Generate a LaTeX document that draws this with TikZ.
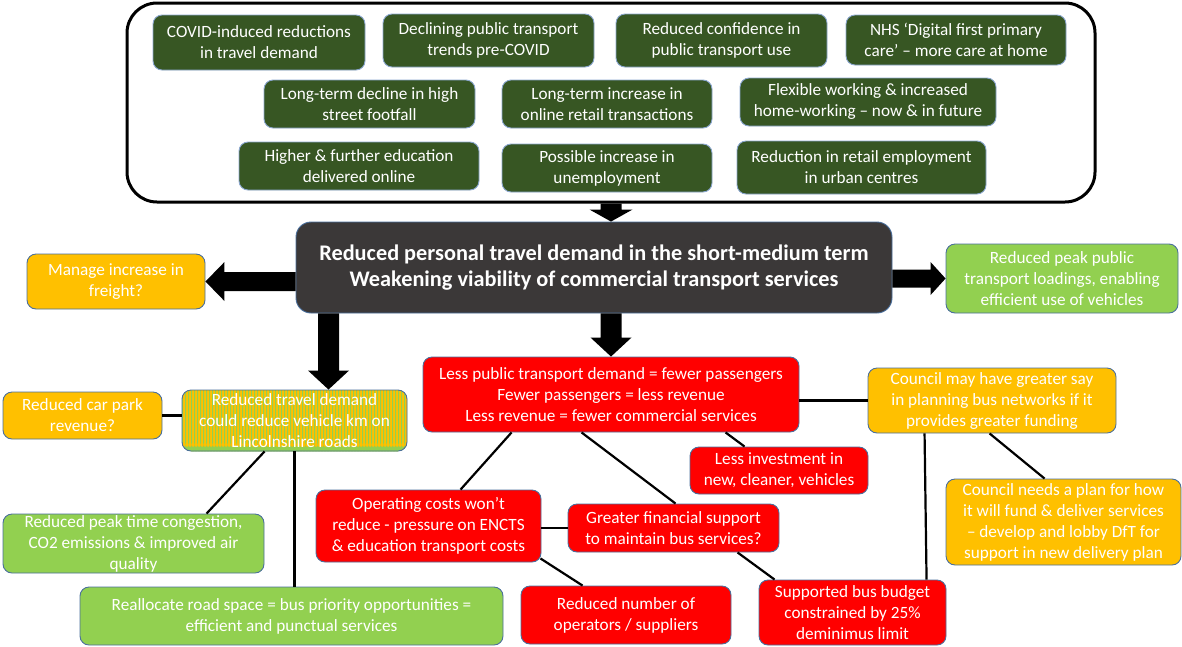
\documentclass[tikz,border=0pt]{standalone}
\usepackage{fontspec}
\setmainfont{Carlito}
\usetikzlibrary{calc}
\definecolor{dkgreen}{HTML}{375623}
\definecolor{dkgrey}{HTML}{3B3838}
\definecolor{ylw}{HTML}{FFC000}
\definecolor{lgreen}{HTML}{92D050}
\definecolor{rd}{HTML}{FF0000}
\definecolor{bdr}{HTML}{4A6F9C}
\definecolor{bdrl}{HTML}{8AA6CF}
\newcommand{\placebox}[7]{\node[#2, minimum width=#5pt-#3pt, minimum height=#6pt-#4pt] (#1) at ({(#3+#5)/2},{(#4+#6)/2}) {#7};}
% #1 start, #2 end, #3 shaft half width, #4 head half width, #5 head length
\newcommand{\myblockarrow}[5]{%
  \coordinate (ma) at (#1); \coordinate (mb) at (#2);
  \coordinate (mh) at ($(mb)!#5!(ma)$);
  \fill[black] ($(ma)!#3!90:(mb)$) -- ($(mh)!#3!90:(mb)$) -- ($(mh)!#4!90:(mb)$) -- (mb)
    -- ($(mh)!#4!-90:(mb)$) -- ($(mh)!#3!-90:(mb)$) -- ($(ma)!#3!-90:(mb)$) -- cycle;}
\begin{document}
\begin{tikzpicture}[x=1pt,y=-1pt,
  base/.style={inner sep=0pt, align=center, text=white, line width=0.9pt,
    rounded corners=9pt, font=\fontsize{17.2}{21}\selectfont},
  dg/.style={base, draw=bdrl, fill=dkgreen},
  yb/.style={base, draw=bdr, fill=ylw},
  gb/.style={base, draw=bdr, fill=lgreen},
  rb/.style={base, draw=bdr, fill=rd},
  sb/.style={base, draw=bdr, fill=ylw,
    path picture={\foreach \i in {0,3,...,228}
      \fill[lgreen] ([xshift=\i pt]path picture bounding box.south west) rectangle ++(1.2pt,80pt);}},
  cbox/.style={base, draw=bdr, fill=dkgrey, rounded corners=15pt,
    font=\fontsize{22.3}{26}\selectfont\bfseries},
  conn/.style={line width=2.2pt, black}]
\useasboundingbox (0,0) rectangle (1182,646);

\node[draw, line width=3pt, rounded corners=30pt, minimum width=968pt, minimum height=199pt, inner sep=0pt] (topbox) at (611,102.5) {};

\placebox{g1}{dg}{153}{15}{365}{70}{COVID-induced reductions\\in travel demand}
\placebox{g2}{dg}{383}{14}{594}{67}{Declining public transport\\trends pre-COVID}
\placebox{g3}{dg}{616}{14}{827}{67}{Reduced confidence in\\public transport use}
\placebox{g4}{dg}{846}{15}{1066}{65}{NHS ‘Digital first primary\\care’ – more care at home}
\placebox{g5}{dg}{264}{80}{475}{128}{Long-term decline in high\\street footfall}
\placebox{g6}{dg}{502}{80}{712}{128}{Long-term increase in\\online retail transactions}
\placebox{g7}{dg}{740}{78}{996}{126}{Flexible working \& increased\\home-working – now \& in future}
\placebox{g8}{dg}{239}{142}{479}{190}{Higher \& further education\\delivered online}
\placebox{g9}{dg}{502}{144}{712}{192}{Possible increase in\\unemployment}
\placebox{g10}{dg}{737}{141}{986}{194}{Reduction in retail employment\\in urban centres}

\placebox{ctr}{cbox}{296}{222}{892}{313}{Reduced personal travel demand in the short-medium term\\Weakening viability of commercial transport services}
\placebox{freight}{yb}{27}{254}{205}{309}{Manage increase in\\freight?}
\placebox{peakpt}{gb}{946}{244}{1178}{313}{Reduced peak public\\transport loadings, enabling\\efficient use of vehicles}
\placebox{redmain}{rb}{423}{357}{799}{432}{Less public transport demand = fewer passengers\\Fewer passengers = less revenue\\Less revenue = fewer commercial services}
\placebox{carpark}{yb}{3}{392}{162}{439}{Reduced car park\\revenue?}
\placebox{lincs}{sb}{182}{390}{407}{451}{Reduced travel demand\\could reduce vehicle km on\\Lincolnshire roads}
\placebox{peakcong}{gb}{3}{514}{264}{573}{Reduced peak time congestion,\\CO2 emissions \& improved air\\quality}
\placebox{realloc}{gb}{80}{587}{503}{645}{Reallocate road space = bus priority opportunities =\\efficient and punctual services}
\placebox{lessinv}{rb}{690}{447}{868}{494}{Less investment in\\new, cleaner, vehicles}
\placebox{opcost}{rb}{316}{490}{541}{562}{Operating costs won’t\\reduce - pressure on ENCTS\\\& education transport costs}
\placebox{finsup}{rb}{568}{504}{779}{552}{Greater financial support\\to maintain bus services?}
\placebox{opnum}{rb}{521}{586}{731}{644}{Reduced number of\\operators / suppliers}
\placebox{busbud}{rb}{759}{580}{946}{645}{Supported bus budget\\constrained by 25\%\\deminimus limit}
\placebox{cmay}{yb}{868}{368}{1116}{433}{Council may have greater say\\in planning bus networks if it\\provides greater funding}
\placebox{cneed}{yb}{946}{479}{1181}{565}{Council needs a plan for how\\it will fund \& deliver services\\– develop and lobby DfT for\\support in new delivery plan}

% block arrows
\coordinate (ax) at (328.5,0);
\myblockarrow{topbox.south}{topbox.south |- ctr.north}{10.5pt}{21.5pt}{12pt}
\myblockarrow{ctr.south -| redmain.north}{redmain.north}{10.5pt}{20.5pt}{19pt}
\myblockarrow{ax |- ctr.south}{ax |- lincs.north}{10.5pt}{20.5pt}{19pt}
\myblockarrow{ctr.west |- freight.east}{freight.east}{9.5pt}{19.5pt}{19pt}
\myblockarrow{ctr.east |- peakpt.west}{peakpt.west}{9pt}{16.5pt}{15pt}

% connectors
\draw[conn] (carpark.east) -- (carpark.east -| lincs.west);
\draw[conn] ([xshift=83pt]lincs.south west) -- ([xshift=204pt]peakcong.north west);
\draw[conn] (lincs.south) -- (lincs.south |- realloc.north);
\draw[conn] ([xshift=89pt]redmain.south west) -- ([xshift=145pt]opcost.north west);
\draw[conn] ([xshift=159pt]redmain.south west) -- ([xshift=108pt]finsup.north west);
\draw[conn] ([xshift=303pt]redmain.south west) -- ([xshift=55pt]lessinv.north west);
\draw[conn] (opcost.east |- finsup.west) -- (finsup.west);
\draw[conn] ([xshift=-1pt,yshift=4pt]opcost.south east) -- ([xshift=62pt]opnum.north west);
\draw[conn] ([xshift=170pt]finsup.south west) -- ([xshift=16pt]busbud.north west);
\draw[conn] (cmay.west -| redmain.east) -- (cmay.west);
\draw[conn] ([xshift=57pt]cmay.south west) -- ([xshift=168pt]busbud.north west);
\draw[conn] ([xshift=122pt]cmay.south west) -- ([xshift=99pt]cneed.north west);
\end{tikzpicture}
\end{document}
